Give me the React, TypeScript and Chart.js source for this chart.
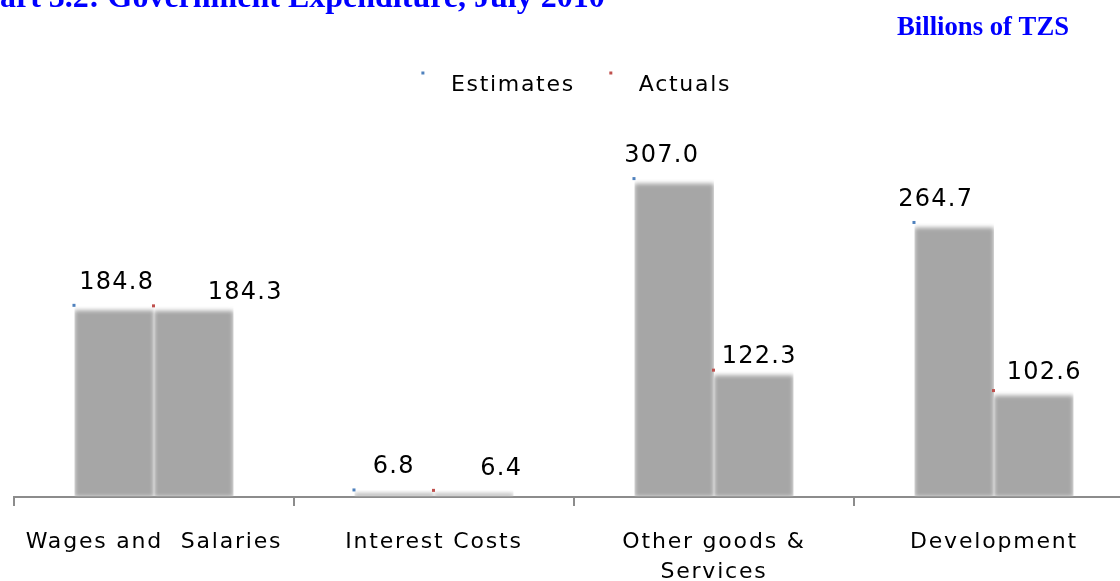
import React, { useEffect, useRef } from "react";
import { Chart, registerables } from "chart.js";

Chart.register(...registerables);

// ---- data ----
const chartTitle = "Chart 3.2: Government Expenditure, July 2010";
const unitLabel = "Billions of TZS";
const categories: (string | string[])[] = [
  "Wages and  Salaries",
  "Interest Costs",
  ["Other goods &", "Services"],
  "Development",
];
const seriesNames = ["Estimates", "Actuals"];
const estimates = [184.8, 6.8, 307.0, 264.7];
const actuals = [184.3, 6.4, 122.3, 102.6];

// ---- style ----
const barGray = "#a6a6a6";
const markerColors = ["#4f81bd", "#c0504d"];
// value-label nudges (dx from bar centre, dy baseline from bar top)
const estLabelNudge = [
  [2.5, -16.5],
  [-0.5, -16.5],
  [-12.5, -16.5],
  [-18.5, -16.5],
];
const actLabelNudge = [
  [51.5, -6.5],
  [27.5, -15],
  [5.5, -7],
  [10.5, -12],
];
const labelNudges = [estLabelNudge, actLabelNudge];
const sansFamily = "'DejaVu Sans', 'Open Sans', sans-serif";
const serifFamily = "'Liberation Serif', 'Times New Roman', serif";

const decorPlugin = {
  id: "decor",
  beforeDraw(chart: any) {
    (chart.ctx as any).letterSpacing = "1.8px";
  },
  beforeDatasetsDraw(chart: any) {
    const ctx = chart.ctx;
    ctx.save();
    ctx.filter = "blur(2px)";
  },
  afterDatasetsDraw(chart: any) {
    const ctx = chart.ctx;
    ctx.restore();
    chart.data.datasets.forEach((ds: any, di: number) => {
      const meta = chart.getDatasetMeta(di);
      meta.data.forEach((bar: any, i: number) => {
        const { x, y, width } = bar.getProps(["x", "y", "width"], true);
        ctx.save();
        ctx.filter = "none";
        ctx.fillStyle = markerColors[di];
        ctx.fillRect(x - width / 2 - 2, y - 1.5, 3, 3);
        ctx.font = `24px ${sansFamily}`;
        (ctx as any).letterSpacing = "1.3px";
        ctx.fillStyle = "#000";
        ctx.textAlign = "center";
        ctx.textBaseline = "alphabetic";
        const nd = labelNudges[di][i];
        ctx.fillText(Number(ds.data[i]).toFixed(1), x + nd[0], y + nd[1]);
        ctx.restore();
      });
    });
  },
  afterDraw(chart: any) {
    const ctx = chart.ctx;
    const area = chart.chartArea;
    // legend
    ctx.save();
    ctx.filter = "none";
    ctx.font = `22px ${sansFamily}`;
    (ctx as any).letterSpacing = "1.7px";
    ctx.textBaseline = "alphabetic";
    ctx.textAlign = "left";
    const markerToText = 28;
    const itemGap = 36;
    const widths = seriesNames.map((n) => ctx.measureText(n).width);
    const total =
      widths.reduce((a, w) => a + w + markerToText, 0) + itemGap * (seriesNames.length - 1);
    let lx = (area.left + area.right) / 2 + 3 - total / 2;
    seriesNames.forEach((n, i) => {
      ctx.fillStyle = markerColors[i];
      ctx.fillRect(lx - 1.5, 71.5, 3, 3);
      ctx.fillStyle = "#000";
      ctx.fillText(n, lx + markerToText, 91);
      lx += markerToText + widths[i] + itemGap;
    });
    // title and unit
    (ctx as any).letterSpacing = "0px";
    ctx.fillStyle = "#0000ff";
    ctx.font = `bold 32px ${serifFamily}`;
    const chW = ctx.measureText("Ch").width;
    ctx.fillText(chartTitle, -chW, 7);
    ctx.font = `bold 26.7px ${serifFamily}`;
    ctx.fillText(unitLabel, 897, 35);
    ctx.restore();
  },
};

export default function App() {
  const ref = useRef<HTMLCanvasElement | null>(null);

  useEffect(() => {
    if (!ref.current) return;
    const mkDataset = (label: string, data: number[]) => ({
      label,
      data,
      backgroundColor: barGray,
      borderColor: "#ffffff",
      borderWidth: { top: 5, right: 0, bottom: 0, left: 0 },
      borderSkipped: "start",
    });
    const chart = new Chart(ref.current, {
      type: "bar",
      data: {
        labels: categories,
        datasets: [mkDataset(seriesNames[0], estimates), mkDataset(seriesNames[1], actuals)] as any,
      },
      options: {
        animation: false,
        responsive: false,
        devicePixelRatio: 1,
        layout: { padding: { top: 134, left: 14, right: 6, bottom: 0 } },
        plugins: {
          legend: { display: false },
          tooltip: { enabled: false },
          title: { display: false },
        },
        datasets: { bar: { barPercentage: 1, categoryPercentage: 0.568 } },
        scales: {
          x: {
            offset: true,
            grid: {
              display: true,
              drawOnChartArea: false,
              drawTicks: true,
              tickLength: 9,
              color: "#8c8c8c",
              lineWidth: 2,
              offset: true,
            },
            border: { display: true, color: "#8c8c8c", width: 2 },
            ticks: {
              color: "#000",
              font: { family: sansFamily, size: 22, lineHeight: 1.33 },
              padding: 22,
              maxRotation: 0,
              minRotation: 0,
              autoSkip: false,
            },
            afterFit: (s: any) => {
              s.height = 84;
            },
          },
          y: { display: false, min: 0, max: 350 },
        },
      } as any,
      plugins: [decorPlugin],
    });
    return () => chart.destroy();
  }, []);

  return (
    <div
      style={{
        position: "fixed",
        left: 0,
        top: 0,
        width: 1120,
        height: 581,
        overflow: "hidden",
        background: "#fff",
      }}
    >
      <canvas ref={ref} width={1140} height={581} style={{ display: "block", width: 1140, height: 581 }} />
    </div>
  );
}
